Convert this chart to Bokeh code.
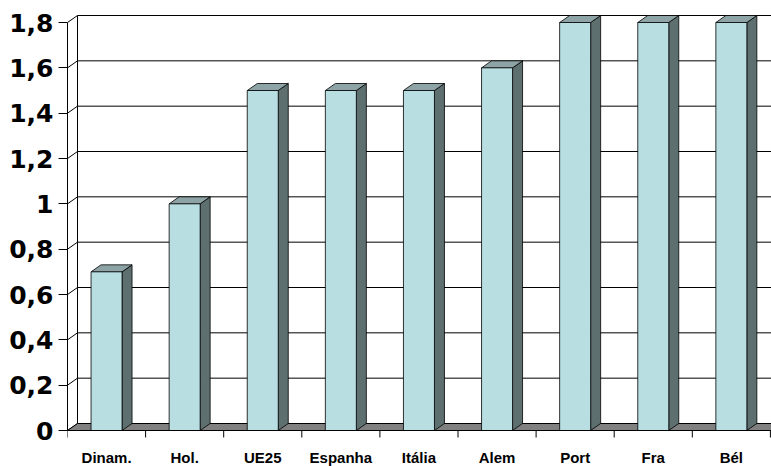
import numpy as np
from bokeh.plotting import figure
from bokeh.models import Range1d, FixedTicker
from bokeh.core.properties import value
from bokeh.embed import file_html
from bokeh.resources import INLINE

# ---- data ----
categories = ["Dinam.", "Hol.", "UE25", "Espanha", "Itália", "Alem", "Port", "Fra", "Bél"]
values = [0.7, 1.0, 1.5, 1.5, 1.5, 1.6, 1.8, 1.8, 1.8]
y_ticks = [0, 0.2, 0.4, 0.6, 0.8, 1.0, 1.2, 1.4, 1.6, 1.8]
y_labels = ["0", "0,2", "0,4", "0,6", "0,8", "1", "1,2", "1,4", "1,6", "1,8"]

# ---- geometry / style ----
PX_X = 78.1          # pixels per category
PX_Y = 408 / 1.8     # pixels per unit value
DX = 10 / PX_X       # 3D depth offset (x)
DY = 7 / PX_Y        # 3D depth offset (y)
BAR_W = 31 / PX_X
n = len(categories)
x_end = 704 / PX_X
y_top = 1.8 + 22 / PX_Y
y_bot = -36 / PX_Y

FRONT = "#B8DEE2"
SIDE = "#5E6F70"
TOP = "#8DA3A5"
FLOOR = "#808080"

p = figure(width=771, height=466, output_backend="svg", toolbar_location=None,
           x_range=Range1d(0, x_end), y_range=Range1d(y_bot, y_top),
           x_axis_location=None, y_axis_location="left",
           min_border_left=67, min_border_right=0, min_border_top=0, min_border_bottom=0)
p.grid.visible = False
p.outline_line_color = None
p.background_fill_color = "white"
p.border_fill_color = "white"

# y axis
ya = p.yaxis[0]
ya.ticker = FixedTicker(ticks=y_ticks)
ya.bounds = (0, 1.8)
ya.major_label_overrides = {t: l for t, l in zip(y_ticks, y_labels)}
ya.minor_tick_line_color = None
ya.major_tick_in = 0
ya.major_tick_out = 9
ya.major_tick_line_color = "black"
ya.axis_line_color = "black"
ya.major_label_standoff = 5
ya.major_label_text_font = "DejaVu Sans"
ya.major_label_text_font_style = "bold"
ya.major_label_text_font_size = "25px"
ya.major_label_text_color = "black"

# back wall gridlines and left wall diagonals
yt = np.array(y_ticks)
p.segment(x0=[DX] * len(yt), y0=yt + DY, x1=[x_end] * len(yt), y1=yt + DY, line_color="black", line_width=1)
p.segment(x0=[0] * len(yt), y0=yt, x1=[DX] * len(yt), y1=yt + DY, line_color="black", line_width=1)
p.segment(x0=[DX], y0=[DY], x1=[DX], y1=[1.8 + DY], line_color="black", line_width=1)

# floor
p.patch(x=[0, DX, x_end, x_end], y=[0, DY, DY, 0], fill_color=FLOOR, line_color="black", line_width=1)

# bars
centers = np.arange(n) + 0.5
vals = np.array(values)
left = centers - BAR_W / 2
right = centers + BAR_W / 2
side_xs = [[r, r + DX, r + DX, r] for r in right]
side_ys = [[0, DY, v + DY, v] for v in vals]
top_xs = [[l, l + DX, r + DX, r] for l, r in zip(left, right)]
top_ys = [[v, v + DY, v + DY, v] for v in vals]
p.patches(xs=side_xs, ys=side_ys, fill_color=SIDE, line_color="black", line_width=0.8)
p.patches(xs=top_xs, ys=top_ys, fill_color=TOP, line_color="black", line_width=0.8)
p.quad(left=left, right=right, bottom=0, top=vals, fill_color=FRONT, line_color="black", line_width=0.8)

# x axis front line and category boundary ticks
p.segment(x0=[0], y0=[0], x1=[x_end], y1=[0], line_color="black", line_width=1)
bx = np.arange(n + 1).astype(float)
p.segment(x0=bx, y0=[0] * len(bx), x1=bx, y1=[-7 / PX_Y] * len(bx), line_color="black", line_width=1)

# category labels
p.text(x=centers, y=[-27 / PX_Y] * n, text=categories, text_font=value("Liberation Sans"),
       text_font_style="bold", text_font_size="15px", text_align="center",
       text_baseline="middle", text_color="black")

open("out.html", "w").write(file_html(p, INLINE))
